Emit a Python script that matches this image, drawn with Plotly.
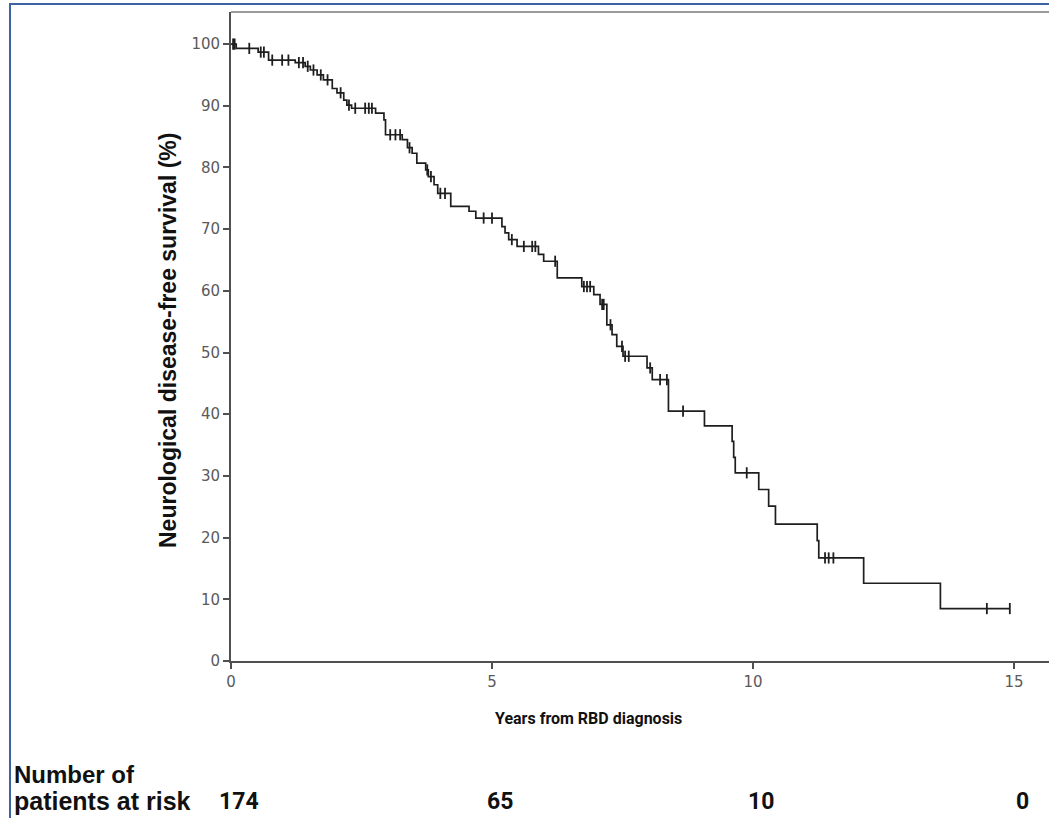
import numpy as np
import plotly.graph_objects as go

# Kaplan-Meier estimate: event times (years) and survival (%) right after each drop
step_time = [0.10, 0.52, 0.72, 1.23, 1.42, 1.52, 1.65, 1.77, 1.94, 2.03, 2.16, 2.22,
             2.31, 2.77, 2.93, 2.96, 3.28, 3.38, 3.47, 3.56, 3.73, 3.78, 3.89, 3.96,
             4.21, 4.56, 4.69, 5.19, 5.25, 5.32, 5.48, 5.89, 5.99, 6.25, 6.72, 6.95,
             7.07, 7.20, 7.30, 7.39, 7.51, 7.97, 8.07, 8.38, 9.07, 9.60, 9.63, 9.66,
             10.11, 10.30, 10.43, 11.23, 11.26, 12.12, 13.59]
step_surv = [99.3, 98.7, 97.4, 97.0, 96.4, 95.8, 95.0, 94.2, 92.8, 92.1, 90.9, 90.1,
             89.6, 88.8, 87.7, 85.3, 84.5, 83.2, 82.3, 80.7, 79.6, 78.5, 77.2, 75.8,
             73.7, 72.9, 71.8, 70.4, 69.4, 68.3, 67.2, 65.9, 64.8, 62.1, 60.7, 59.4,
             57.8, 54.5, 52.9, 51.0, 49.4, 47.5, 45.6, 40.5, 38.1, 35.6, 33.0, 30.5,
             27.8, 25.1, 22.2, 19.5, 16.7, 12.6, 8.5]
last_followup = 14.92

# Censored observations (years)
censor_time = [0.04, 0.07, 0.35, 0.57, 0.63, 0.79, 0.98, 1.10, 1.30, 1.38, 1.47,
               1.58, 1.72, 1.85, 2.10, 2.26, 2.38, 2.57, 2.64, 2.70, 3.05, 3.15,
               3.24, 3.42, 3.76, 3.83, 4.01, 4.10, 4.84, 5.00, 5.38, 5.61, 5.77,
               5.83, 6.21, 6.76, 6.82, 6.88, 7.11, 7.14, 7.27, 7.49, 7.55, 7.62,
               8.03, 8.22, 8.35, 8.66, 9.88, 11.38, 11.45, 11.54, 14.48, 14.92]

# Patients at risk below the x axis
risk_years = [0, 5, 10, 15]
risk_counts = ["174", "65", "10", "0"]

x_ticks = [0, 5, 10, 15]
y_ticks = list(range(0, 101, 10))

# Step curve
curve_x = [0.0] + step_time + [last_followup]
curve_y = [100.0] + step_surv + [step_surv[-1]]

# Survival level at each censoring time
st = np.array(step_time)
sv = np.array([100.0] + step_surv)
censor_surv = sv[np.searchsorted(st, np.array(censor_time), side="right")]

W, H = 1049, 818
ML, MR, MT, MB = 231, 0, 12, 157
PW, PH = W - ML - MR, H - MT - MB
PX_PER_YEAR = 52.2
X_MAX = PW / PX_PER_YEAR
Y_MAX = 105.2

AXIS = "#505050"
INK = "#1e1e1e"


def px_x(px):
    return (px - ML) / PW


def px_y(py):
    return (H - MB - py) / PH


fig = go.Figure()
fig.add_trace(go.Scatter(
    x=curve_x, y=curve_y, mode="lines", line_shape="hv",
    line=dict(color=INK, width=1.7), hoverinfo="skip", showlegend=False))
fig.add_trace(go.Scatter(
    x=censor_time, y=censor_surv, mode="markers",
    marker=dict(symbol="line-ns", size=8, line=dict(color=INK, width=1.8)),
    showlegend=False))

tickfont = dict(family="DejaVu Sans, Arial, sans-serif", size=15, color="#5a5a5a")
fig.update_xaxes(range=[0, X_MAX], tickvals=x_ticks, ticks="outside", ticklen=6,
                 tickwidth=1.8, tickcolor=AXIS, showline=True, linecolor=AXIS,
                 linewidth=1.8, showgrid=False, zeroline=False, tickfont=tickfont)
fig.update_yaxes(range=[0, Y_MAX], tickvals=y_ticks, ticks="outside", ticklen=6,
                 tickwidth=1.8, tickcolor=AXIS, showline=True, linecolor=AXIS,
                 linewidth=1.8, showgrid=False, zeroline=False, tickfont=tickfont)

shapes = [
    # top edge of the plotting frame
    dict(type="line", xref="paper", yref="paper", x0=0, x1=1, y0=1, y1=1,
         line=dict(color="#9a9a9a", width=2)),
    # outer blue border
    dict(type="rect", xref="paper", yref="paper", x0=px_x(10), x1=px_x(1100),
         y0=px_y(900), y1=px_y(4), line=dict(color="#3d63a0", width=2)),
]

bold = "Roboto, Liberation Sans, Arial, sans-serif"
annotations = [
    dict(text="<b>Years from RBD diagnosis</b>", xref="paper", yref="paper",
         x=px_x(588), y=px_y(718), xanchor="center", yanchor="middle", showarrow=False,
         font=dict(family=bold, size=16, color="#111111")),
    dict(text="<b>Neurological disease-free survival (%)</b>", xref="paper", yref="paper",
         x=px_x(168), y=px_y(341), xanchor="center", yanchor="middle", showarrow=False,
         textangle=-90, font=dict(family="Liberation Sans, Arial, sans-serif", size=23,
                                  color="#111111")),
    dict(text="<b>Number of</b>", xref="paper", yref="paper",
         x=px_x(12), y=px_y(774), xanchor="left", yanchor="middle", showarrow=False,
         font=dict(family="Liberation Sans, Arial, sans-serif", size=24, color="#111111")),
    dict(text="<b>patients at risk</b>", xref="paper", yref="paper",
         x=px_x(12), y=px_y(801), xanchor="left", yanchor="middle", showarrow=False,
         font=dict(family="Liberation Sans, Arial, sans-serif", size=25, color="#111111")),
]
for yr, n in zip(risk_years, risk_counts):
    annotations.append(dict(
        text=f"<b>{n}</b>", x=yr, xref="x", yref="paper", y=px_y(801),
        xanchor="center", yanchor="middle", xshift=8, showarrow=False,
        font=dict(family=bold, size=23, color="#111111")))

fig.update_layout(width=W, height=H, margin=dict(l=ML, r=MR, t=MT, b=MB),
                  plot_bgcolor="white", paper_bgcolor="white",
                  shapes=shapes, annotations=annotations)

fig.write_html("out.html")
